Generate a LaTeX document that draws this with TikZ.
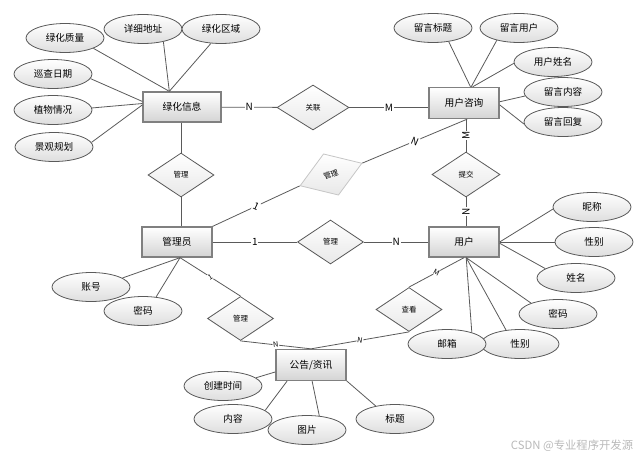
\documentclass[tikz,border=0pt]{standalone}
\usepackage{fontspec}
\setmainfont{Noto Sans CJK SC}
\usetikzlibrary{shapes.geometric}

\definecolor{lnk}{RGB}{90,90,90}
\definecolor{entbd}{RGB}{128,128,128}
\definecolor{entbot}{RGB}{212,212,212}
\definecolor{attbot}{RGB}{222,222,222}
\definecolor{relbot}{RGB}{232,232,232}

\tikzset{
  entity/.style={rectangle, draw=entbd, line width=1pt, top color=white, bottom color=entbot,
    minimum width=52.5pt, minimum height=22.5pt, inner sep=0pt, font=\fontsize{7.3}{8}\selectfont},
  attr/.style={ellipse, draw=lnk, line width=0.6pt, top color=white, bottom color=attbot,
    minimum width=58.5pt, minimum height=21.75pt, inner sep=0pt, font=\fontsize{7.2}{8}\selectfont},
  rel/.style={diamond, draw=lnk, line width=0.6pt, top color=white, bottom color=relbot,
    minimum width=49.5pt, minimum height=33pt, inner sep=0pt, font=\fontsize{5.6}{6}\selectfont},
  link/.style={draw=lnk, line width=0.6pt},
  card/.style={fill=white, inner sep=0.6pt, font=\fontsize{7.5}{8}\selectfont},
  smallcard/.style={fill=white, inner sep=0.4pt, font=\fontsize{5.5}{6}\selectfont}
}

\begin{document}
\begin{tikzpicture}[x=0.75pt,y=0.75pt,yscale=-1,xscale=1]
\useasboundingbox (0,0) rectangle (640,458);

% entities
\node[entity, minimum width=58.5pt] (lhxx) at (182,107) {绿化信息};
\node[entity, minimum height=23.25pt] (yhzx) at (464,103) {用户咨询};
\node[entity] (gly) at (177,242) {管理员};
\node[entity] (yh) at (464,242) {用户};
\node[entity, minimum height=23.25pt] (ggzx) at (311,365) {公告/资讯};

% relations
\node[rel, minimum width=54pt, minimum height=33.75pt] (rgl) at (313,107.5) {关联};
\node[rel] (rgl1) at (181,175) {管理};
\node[rel, draw=gray!45, rotate=20] (rgl2) at (331,174.5) {管理};
\node[rel] (rgl3) at (330.5,242) {管理};
\node[rel] (rgl4) at (240.5,318.5) {管理};
\node[rel, minimum width=51pt, minimum height=33.75pt] (rtj) at (466,174.5) {提交};
\node[rel] (rck) at (409,309.5) {查看};

% relation links
\draw[link] (lhxx) -- node[card]{N} (rgl);
\draw[link] (rgl) -- node[card]{M} (rgl.east -| yhzx.west);
\draw[link] (rgl1.north |- lhxx.south) -- (rgl1);
\draw[link] (rgl1) -- (rgl1.south |- gly.north);
\draw[link] (gly.north east) -- node[card, sloped]{1} (rgl2.west);
\draw[link] (rgl2.east) -- node[card, sloped]{N} (yhzx.-79);
\draw[link] (rtj.north |- yhzx.south) -- node[card, rotate=90]{M} (rtj);
\draw[link] (rtj) -- node[card, rotate=90]{N} (rtj.south |- yh.north);
\draw[link] (gly) -- node[card]{1} (rgl3);
\draw[link] (rgl3) -- node[card]{N} (yh);
\draw[link] (gly.-79) -- node[smallcard, sloped]{1} (rgl4.north);
\draw[link] (rgl4.south) -- node[smallcard, sloped]{N} (ggzx.north);
\draw[link] (yh.south) -- node[smallcard, sloped]{M} (rck.north);
\draw[link] (rck.south) -- node[smallcard, sloped]{N} (ggzx.north);

% attributes of 绿化信息
\node[attr] (lhzl) at (65,38) {绿化质量};
\node[attr] (xxdz) at (143,29) {详细地址};
\node[attr] (lhqy) at (221,29) {绿化区域};
\node[attr] (xcrq) at (53,74) {巡查日期};
\node[attr] (zwqk) at (53,110) {植物情况};
\node[attr] (jggh) at (54,147) {景观规划};
\draw[link] (lhzl.-20) -- (lhxx.129);
\draw[link] (xxdz.-32) -- (lhxx.129);
\draw[link] (lhqy.-125) -- (lhxx.129);
\draw[link] (xcrq.-7) -- (lhxx.172);
\draw[link] (zwqk.3) -- (lhxx.175);
\draw[link] (jggh.7) -- (lhxx.177);

% attributes of 用户咨询
\node[attr] (lybt) at (433,28) {留言标题};
\node[attr] (lyyh) at (519,28) {留言用户};
\node[attr] (yhxm) at (553,62) {用户姓名};
\node[attr] (lynr) at (563,92) {留言内容};
\node[attr] (lyhf) at (563,122) {留言回复};
\draw[link] (lybt.-41) -- (yhzx.68);
\draw[link] (lyyh.-151) -- (yhzx.66);
\draw[link] (yhxm.182) -- (yhzx.62);
\draw[link] (lynr.186) -- (yhzx.2);
\draw[link] (lyhf.183) -- (yhzx.-3);

% attributes of 管理员
\node[attr] (zh) at (91,287) {账号};
\node[attr] (glmm) at (143,311) {密码};
\draw[link] (zh.16) -- (gly.-79);
\draw[link] (glmm.47) -- (gly.-79);

% attributes of 用户
\node[attr] (nc) at (592,207) {昵称};
\node[attr] (xb) at (594,242) {性别};
\node[attr] (xm) at (576,278) {姓名};
\node[attr] (yhmm) at (558,314) {密码};
\node[attr] (xb2) at (520,344) {性别};
\node[attr] (yx) at (447,344) {邮箱};
\draw[link] (nc.183) -- (yh.east);
\draw[link] (xb.180) -- (yh.east);
\draw[link] (xm.163) -- (yh.-2);
\draw[link] (yhmm.158) -- (yh.-82);
\draw[link] (yx.25) -- (yh.-82);
\draw[link] (xb2.135) -- (yh.-82);

% attributes of 公告/资讯
\node[attr] (cjsj) at (223,386) {创建时间};
\node[attr] (nr) at (233,419) {内容};
\node[attr] (tp) at (307,430) {图片};
\node[attr] (bt) at (395,419) {标题};
\draw[link] (cjsj.14) -- (ggzx.191);
\draw[link] (nr.15) -- (ggzx.214);
\draw[link] (tp.49) -- (ggzx.-86);
\draw[link] (bt.146) -- (ggzx.-24);

\node[text=gray!55, font=\fontsize{8.5}{10}\selectfont] (wm) at (572,446) {CSDN @专业程序开发源};
\end{tikzpicture}
\end{document}
